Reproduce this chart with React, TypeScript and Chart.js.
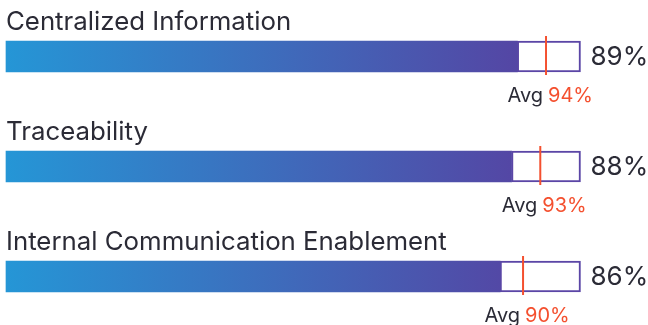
import React, { useEffect, useRef } from "react";
import { Chart, registerables } from "chart.js";

Chart.register(...registerables);

const categories = ["Centralized Information", "Traceability", "Internal Communication Enablement"];
const scores = [89, 88, 86];
const averages = [94, 93, 90];
const maxValue = 100;

const FONT = "Inter, 'Noto Sans', sans-serif";

const overlayPlugin = {
  id: "overlay",
  afterDatasetsDraw(chart: any) {
    const { ctx, chartArea, scales } = chart;
    const xs = scales.x;
    const ys = scales.y;
    const half = 15.5;
    ctx.save();
    categories.forEach((cat, i) => {
      const cy = ys.getPixelForValue(i);
      const top = cy - half;
      const bottom = cy + half;
      // category label
      ctx.fillStyle = "#2b2b36";
      ctx.font = `400 25.8px ${FONT}`;
      ctx.textAlign = "left";
      ctx.textBaseline = "alphabetic";
      ctx.fillText(cat, chartArea.left, top - 11);
      // value label
      ctx.font = `400 26px ${FONT}`;
      ctx.textBaseline = "middle";
      ctx.fillText(`${scores[i]}%`, chartArea.right + 10, cy + 1);
      // avg line
      const ax = xs.getPixelForValue(averages[i]);
      ctx.strokeStyle = "#f4502f";
      ctx.lineWidth = 2;
      ctx.beginPath();
      ctx.moveTo(ax, top - 5);
      ctx.lineTo(ax, bottom + 3);
      ctx.stroke();
      // avg text
      ctx.textBaseline = "alphabetic";
      ctx.font = `400 20px ${FONT}`;
      ctx.textAlign = "right";
      ctx.fillStyle = "#2b2b36";
      ctx.fillText("Avg", ax - 3, bottom + 30);
      ctx.textAlign = "left";
      ctx.fillStyle = "#f4502f";
      ctx.fillText(`${averages[i]}%`, ax + 2, bottom + 30);
    });
    ctx.restore();
  },
};

export default function App() {
  const ref = useRef<HTMLCanvasElement | null>(null);
  useEffect(() => {
    document.body.style.margin = "0";
    const canvas = ref.current!;
    const chart = new Chart(canvas, {
      type: "bar",
      data: {
        labels: categories,
        datasets: [
          {
            data: scores,
            stack: "s",
            barThickness: 31,
            borderWidth: 0,
            clip: false as any,
            backgroundColor: (c: any) => {
              const area = c.chart.chartArea;
              if (!area) return "#3f66b8";
              const g = c.chart.ctx.createLinearGradient(area.left, 0, area.right, 0);
              g.addColorStop(0, "#2596d6");
              g.addColorStop(1, "#5a3c9e");
              return g;
            },
          },
          {
            data: scores.map((v) => maxValue - v),
            stack: "s",
            barThickness: 31,
            clip: false as any,
            backgroundColor: "#ffffff",
            borderColor: "#5b46a6",
            borderWidth: 2,
            borderSkipped: false,
          },
        ],
      },
      options: {
        indexAxis: "y",
        animation: false,
        responsive: false,
        layout: { padding: { top: 56.5, bottom: 48.5, left: 6, right: 67.5 } },
        plugins: { legend: { display: false }, tooltip: { enabled: false } },
        scales: {
          x: { display: false, min: 0, max: maxValue, stacked: true },
          y: { display: false, offset: false, stacked: true },
        },
      },
      plugins: [overlayPlugin],
    });
    return () => chart.destroy();
  }, []);
  return (
    <div style={{ width: 648, height: 325, background: "#fff" }}>
      <canvas ref={ref} width={648} height={325} />
    </div>
  );
}
